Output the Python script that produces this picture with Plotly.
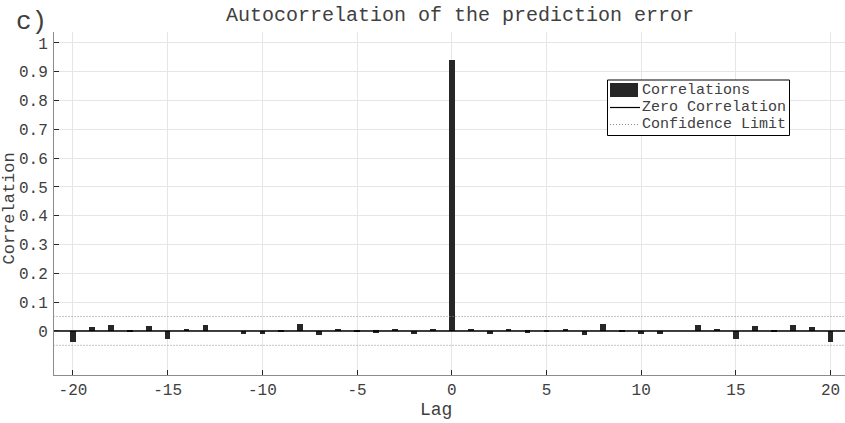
import plotly.graph_objects as go

# Autocorrelation of the prediction error, lags -20..20
lags = list(range(-20, 21))
corr = [
    -0.040, 0.012, 0.020, -0.002, 0.016, -0.029, 0.007, 0.021, 0.000, -0.012,
    -0.012, -0.002, 0.023, -0.013, 0.004, -0.004, -0.006, 0.004, -0.012, 0.004,
    0.940,
    0.004, -0.011, 0.004, -0.006, -0.004, 0.004, -0.013, 0.023, -0.002, -0.011,
    -0.012, 0.000, 0.021, 0.007, -0.029, 0.016, -0.002, 0.020, 0.012, -0.040,
]
conf_limit = 0.05
x_ticks = list(range(-20, 21, 5))
y_ticks = [round(0.1 * i, 1) for i in range(11)]
y_tick_text = ["0", "0.1", "0.2", "0.3", "0.4", "0.5", "0.6", "0.7", "0.8", "0.9", "1"]

W, H = 845, 423
L, R, T, B = 54, 0, 32, 48
PW, PH = W - L - R, H - T - B

FONT = "Liberation Mono, Courier New, monospace"
INK = "#262626"
TXT = "#404040"
DOT = dict(color="#8c8c8c", width=1, dash="1px,2px")


def px(x):
    return (x - L) / PW


def py(y):
    return (H - B - y) / PH


fig = go.Figure()

fig.add_trace(go.Bar(
    x=lags, y=corr, width=0.3,
    marker=dict(color=INK, line=dict(width=0)),
    showlegend=False,
))

xr = [-21.5, 21.5]
fig.add_trace(go.Scatter(
    x=xr, y=[0, 0], mode="lines",
    line=dict(color="black", width=1.5), showlegend=False, hoverinfo="skip",
))
for s in (1, -1):
    fig.add_trace(go.Scatter(
        x=xr, y=[s * conf_limit] * 2, mode="lines",
        line=DOT, showlegend=False, hoverinfo="skip",
    ))

axis_common = dict(
    showline=True, linecolor="#8c8c8c", linewidth=1,
    ticks="inside", ticklen=5, tickcolor=INK, tickwidth=1,
    showgrid=True, gridcolor="#e6e6e6", gridwidth=1,
    zeroline=False, mirror=False,
    tickfont=dict(family=FONT, size=16, color=TXT),
)

fig.update_xaxes(
    range=[-21, 20.76], tickmode="array", tickvals=x_ticks,
    ticktext=[str(v) for v in x_ticks], **axis_common,
)
fig.update_yaxes(
    range=[-0.153, 1.038], tickmode="array", tickvals=y_ticks,
    ticktext=y_tick_text, ticklabelstandoff=2, **axis_common,
)

shapes = []
annotations = []

# legend box
shapes.append(dict(type="rect", xref="paper", yref="paper",
                   x0=px(607.5), x1=px(789.5), y0=py(135.5), y1=py(80),
                   line=dict(color="black", width=1), fillcolor="white", layer="above"))
shapes.append(dict(type="rect", xref="paper", yref="paper",
                   x0=px(610), x1=px(638), y0=py(97), y1=py(83),
                   line=dict(width=0), fillcolor=INK, layer="above"))
shapes.append(dict(type="line", xref="paper", yref="paper",
                   x0=px(610), x1=px(640), y0=py(107.5), y1=py(107.5),
                   line=dict(color="black", width=1.2), layer="above"))
shapes.append(dict(type="line", xref="paper", yref="paper",
                   x0=px(610), x1=px(640), y0=py(124.5), y1=py(124.5),
                   line=DOT, layer="above"))

legend_items = [("Correlations", 90), ("Zero Correlation", 107), ("Confidence Limit", 124.5)]
for text, yc in legend_items:
    annotations.append(dict(text=text, xref="paper", yref="paper",
                            x=px(640), y=py(yc), xanchor="left", yanchor="middle",
                            showarrow=False, font=dict(family=FONT, size=15, color=TXT)))

annotations.append(dict(text="Autocorrelation of the prediction error",
                        xref="paper", yref="paper", x=px(460), y=py(16),
                        xanchor="center", yanchor="middle", showarrow=False,
                        font=dict(family=FONT, size=20, color=TXT)))
annotations.append(dict(text="c)", xref="paper", yref="paper", x=px(14), y=py(22),
                        xanchor="left", yanchor="middle", showarrow=False,
                        font=dict(family=FONT, size=26, color=TXT)))
annotations.append(dict(text="Lag", xref="paper", yref="paper", x=px(436), y=py(410),
                        xanchor="center", yanchor="middle", showarrow=False,
                        font=dict(family=FONT, size=18, color=TXT)))
annotations.append(dict(text="Correlation", xref="paper", yref="paper", x=px(-3), y=py(209),
                        xanchor="left", yanchor="middle", textangle=-90, showarrow=False,
                        font=dict(family=FONT, size=17, color=TXT)))

fig.update_layout(
    width=W, height=H,
    margin=dict(l=L, r=R, t=T, b=B, pad=0),
    paper_bgcolor="white", plot_bgcolor="white",
    bargap=0, showlegend=False,
    shapes=shapes, annotations=annotations,
)

fig.write_html("out.html")
